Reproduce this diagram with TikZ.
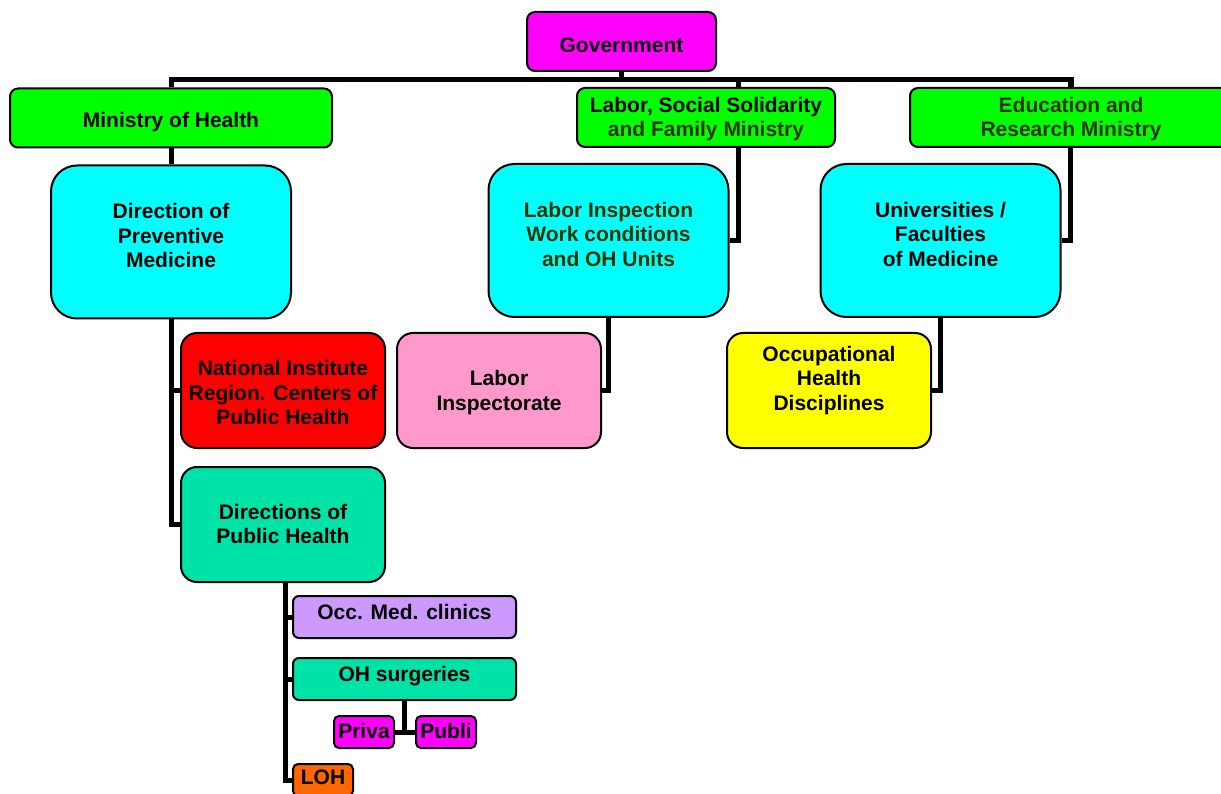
\documentclass[tikz,border=0pt]{standalone}
\usepackage{fontspec}
\setmainfont{Liberation Sans}
\usepackage{tikz}
\usetikzlibrary{positioning}
\usetikzlibrary{backgrounds}
\definecolor{govmag}{HTML}{FF00FF}
\definecolor{minigreen}{HTML}{00FF00}
\definecolor{dircyan}{HTML}{00FFFF}
\definecolor{natred}{HTML}{FF0000}
\definecolor{inspink}{HTML}{FF99CC}
\definecolor{ohyellow}{HTML}{FFFF00}
\definecolor{phteal}{HTML}{00E3A8}
\definecolor{occlilac}{HTML}{CC99FF}
\definecolor{lohorange}{HTML}{FF6600}
\definecolor{darkolive}{HTML}{333300}
% text lines, raised or lowered inside the box
\newcommand{\orgtext}[2][0pt]{\raisebox{#1}[\height][\depth]{\begin{tabular}{@{}c@{}}#2\end{tabular}}}
\tikzstyle{org}=[draw,line width=2pt,rounded corners=8pt,inner xsep=3pt,font=\bfseries\fontsize{21}{24.5}\selectfont]
\tikzstyle{ministry}=[org,fill=minigreen,minimum height=59pt]
\tikzstyle{direction}=[org,fill=dircyan,minimum width=240pt,minimum height=153pt,rounded corners=26pt]
\tikzstyle{unit}=[org,minimum width=204pt,minimum height=115pt,rounded corners=16pt]
\tikzstyle{service}=[org,minimum width=223pt,minimum height=42pt,rounded corners=6pt]
\tikzstyle{tiny}=[org,minimum width=60pt,minimum height=32pt,rounded corners=5pt]
\tikzstyle{link}=[line width=5pt]

\begin{document}
\begin{tikzpicture}[x=1pt,y=-1pt]
	\useasboundingbox (0,0) rectangle (1221,794);
	\node[org,fill=govmag,minimum width=189pt,minimum height=59pt] (gov) at (621.5,41.5) {\orgtext[-6pt]{Government}};
	\node[ministry,minimum width=322pt] (moh) at (171,118) {\orgtext[-4.5pt]{Ministry of Health}};
	\node[ministry,minimum width=258pt] (lsm) at (706,117.5) {\orgtext[-2pt]{Labor, Social Solidarity\\\textcolor{darkolive}{and Family Ministry}}};
	\node[ministry,minimum width=322pt,text=darkolive] (edu) at (1071,117.5) {\orgtext[-2pt]{Education and\\Research Ministry}};
	
	\node[direction,below=16pt of moh] (dpm) {\orgtext[3.5pt]{Direction of\\Preventive\\Medicine}};
	\node[direction,text=darkolive] (li) at (608.5,240.5) {\orgtext[3.5pt]{Labor Inspection\\Work conditions\\and OH Units}};
	\node[direction] (uni) at (940.5,240.5) {\orgtext[3.5pt]{Universities /\\Faculties\\of Medicine}};
	
	\node[unit,fill=natred] (nip) at (283,390.5) {\orgtext[-5pt]{National Institute\\Region. Centers of\\Public Health}};
	\node[unit,fill=inspink,right=10pt of nip] (insp) {\orgtext[-2.5pt]{Labor\\Inspectorate}};
	\node[unit,fill=ohyellow] (ohd) at (829,390.5) {\orgtext[9.5pt]{Occupational\\Health\\Disciplines}};
	\node[unit,fill=phteal,below=17pt of nip] (dph) {\orgtext[-2pt]{Directions of\\Public Health}};
	
	\node[service,fill=occlilac] (occ) at (404.5,617) {\orgtext[2.4pt]{Occ. Med. clinics}};
	\node[service,fill=phteal,below=18pt of occ] (ohs) {\orgtext[2pt]{OH surgeries}};
	\node[tiny,fill=govmag] (priva) at (364,732) {\orgtext[-1.2pt]{Priva}};
	\node[tiny,fill=govmag,right=20pt of priva] (publi) {\orgtext[-1.2pt]{Publi}};
	\node[tiny,fill=lohorange] (loh) at (323,780) {\orgtext{LOH}};
	
	\begin{scope}[on background layer]
	\draw[link] (gov.south) -- ++(0,8) coordinate (bus);
	\draw[link] (moh.north) |- (bus) -| (edu.north);
	\draw[link] (li.east) -- ++(9,0) coordinate (lsmdrop) -- (lsmdrop |- bus);
	\draw[link] (uni.east) -- ++(9,0) coordinate (edudrop) -- (edudrop |- bus);
	
	\draw[link] (moh.south) -- (dpm.north);
	\draw[link] (dpm.south) |- (nip.west);
	\draw[link] (dpm.south) |- (dph.west);
	\draw[link] (li.south) |- (insp.east);
	\draw[link] (uni.south) |- (ohd.east);
	
	\draw[link] ([xshift=2pt]dph.south) |- (occ.west);
	\draw[link] ([xshift=2pt]dph.south) |- (ohs.west);
	\draw[link] ([xshift=2pt]dph.south) |- (loh.west);
	\draw[link] (ohs.south) |- (priva.east);
	\draw[link] (ohs.south) |- (publi.west);
	\end{scope}
\end{tikzpicture}
\end{document}
